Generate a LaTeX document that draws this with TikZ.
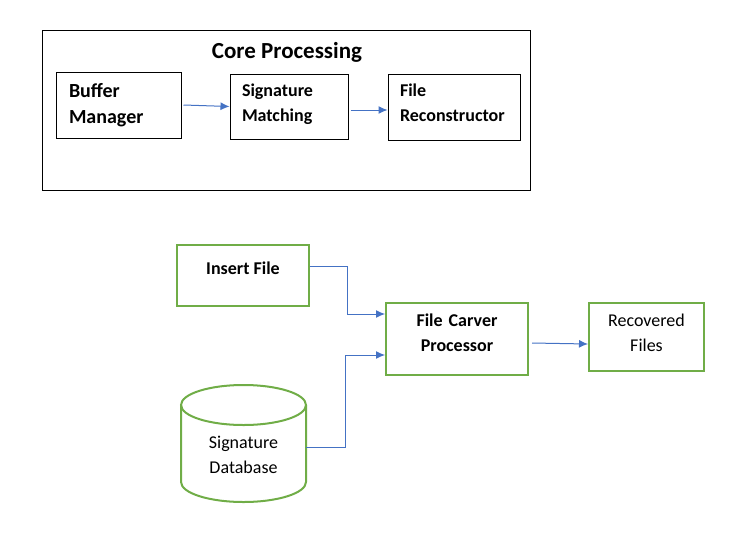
\documentclass[tikz,border=0pt]{standalone}
\usepackage{fontspec}
\setmainfont{Carlito}
\usetikzlibrary{arrows.meta}
\definecolor{arrblue}{HTML}{4472C4}
\definecolor{boxgreen}{HTML}{70AD47}
\begin{document}
\begin{tikzpicture}[x=1pt,y=-1pt,
  blackbox/.style={draw=black, line width=1pt, inner sep=0pt},
  corebox/.style={draw=black, line width=1pt, align=left, inner xsep=12pt, inner ysep=0pt, text height=14pt},
  greenbox/.style={draw=boxgreen, line width=2pt, align=center, inner sep=0pt, text height=14pt},
  cyl/.style={draw=boxgreen, line width=2pt},
  flow/.style={draw=arrblue, line width=1pt, -{Latex[length=9pt,width=8pt]}},
  bigbold/.style={font=\bfseries\fontsize{20}{26}\selectfont},
  midbold/.style={font=\bfseries\fontsize{18}{25}\selectfont},
  midreg/.style={font=\fontsize{18}{25}\selectfont},
]
\useasboundingbox (0,0) rectangle (730,541);
% Core processing frame
\node[blackbox, minimum width=488pt, minimum height=160pt] (core) at (286,110) {};
\node[font=\bfseries\fontsize{23}{26}\selectfont, anchor=base] (title) at (287,58) {Core Processing};
\node[corebox, bigbold, minimum height=66pt, text width=99pt, inner xsep=13pt, text depth=30pt] (buf) at (118.5,105) {Buffer\\Manager};
\node[corebox, midbold, minimum height=65pt, text width=94pt, text depth=34.4pt] (sig) at (289,106.5) {Signature\\Matching};
\node[corebox, midbold, minimum height=66pt, text width=108pt, text depth=35.4pt] (recon) at (454,107) {File\\Reconstructor};
\draw[flow] ([xshift=2pt]buf.east) -- (sig.west);
\draw[flow] ([xshift=2pt,yshift=-3.5pt]sig.east) -- ([yshift=-3pt]recon.west);
% Lower flow
\node[greenbox, midbold, minimum width=132pt, minimum height=61pt, text depth=17pt] (ins) at (243,275.5) {Insert File};
\node[greenbox, midbold, minimum width=142pt, minimum height=72pt, text width=130pt, text depth=38.6pt] (fcp) at (457,339) {File Carver\\Processor};
\node[greenbox, midreg, minimum width=115pt, minimum height=68pt, text width=110pt, text depth=34.6pt] (rec) at (646.5,337) {Recovered\\Files};
% cylinder
\draw[cyl] (181,405) -- (181,482) arc[start angle=180, end angle=0, x radius=62.5, y radius=20] -- (306,405);
\draw[cyl] (243.5,405) ellipse[x radius=62.5, y radius=20];
\node[midreg, align=center, text width=125pt, minimum height=117pt, inner sep=0pt, text height=14pt, text depth=4.4pt] (db) at (243.5,443.5) {Signature\\Database};
\draw[flow] ([yshift=9.5pt]ins.east) -- ++(37,0) |- ([yshift=25pt]fcp.west);
\draw[flow] ([yshift=-3.5pt]db.east) -- ++(39,0) |- ([yshift=-16pt]fcp.west);
\draw[flow] ([xshift=3pt,yshift=-4pt]fcp.east) -- ([yshift=-7pt]rec.west);
\end{tikzpicture}
\end{document}
